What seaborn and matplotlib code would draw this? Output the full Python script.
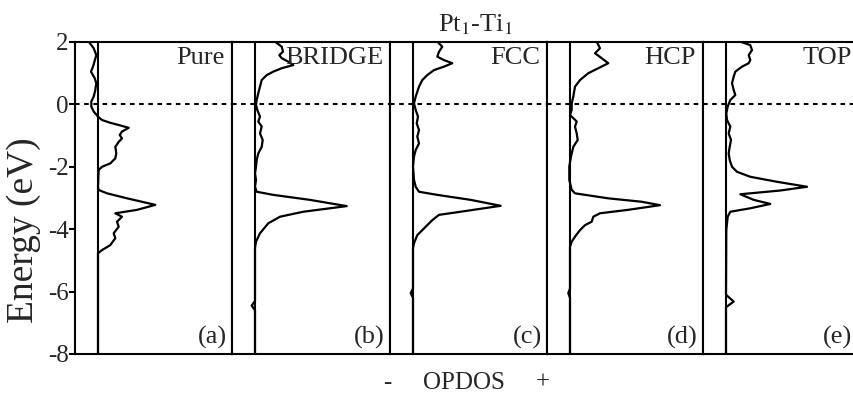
import numpy as np
import pandas as pd
import matplotlib
matplotlib.use("Agg")
import matplotlib.pyplot as plt
import seaborn as sns

# ---------------- data (energy in eV, OPDOS in arbitrary units) ----------------
panels = ["Pure", "BRIDGE", "FCC", "HCP", "TOP"]
panel_tags = ["(a)", "(b)", "(c)", "(d)", "(e)"]

energy_pure = [2.01, 1.80, 1.58, 1.21, 1.05, 0.84, 0.68, 0.46, 0.25, 0.09, -0.07, -0.23, -0.39, -0.50, -0.59,
               -0.66, -0.75, -0.87, -0.98, -1.09, -1.20, -1.36, -1.57, -1.73, -1.89, -2.00, -2.10, -2.64, -2.74, -2.85,
               -3.01, -3.22, -3.38, -3.49, -3.60, -3.76, -3.92, -4.13, -4.29, -4.51, -4.67, -4.77, -8.0]
opdos_pure = [-0.93, -0.43, -0.17, -0.50, -0.70, -0.33, -0.17, -0.27, -0.43, -0.67, -0.67, -0.43, 0.0, 0.40, 1.23,
              2.07, 3.07, 2.40, 2.17, 2.40, 2.07, 1.73, 1.83, 1.73, 1.23, 0.40, 0.07, 0.0, 0.05, 0.90,
              2.90, 5.73, 3.90, 1.73, 2.40, 1.90, 2.07, 1.57, 1.73, 1.23, 0.40, 0.0, 0.0]

energy_bridge = [2.01, 1.85, 1.69, 1.58, 1.48, 1.37, 1.26, 1.16, 1.05, 0.94, 0.78, 0.57, 0.36, 0.14, -0.02,
                 -0.18, -0.39, -0.55, -0.71, -0.93, -1.14, -1.36, -1.57, -1.78, -2.00, -2.21, -2.42, -2.64, -2.80, -2.90,
                 -3.06, -3.26, -3.44, -3.60, -3.81, -4.13, -4.40, -4.60, -6.30, -6.45, -6.60, -8.0]
opdos_bridge = [2.00, 2.67, 2.80, 2.43, 2.67, 3.33, 3.83, 2.67, 1.83, 1.17, 0.67, 0.50, 0.33, 0.17, 0.10,
                0.23, 0.50, 0.33, 0.67, 0.50, 0.77, 0.67, 0.33, 0.17, 0.10, 0.0, 0.10, 0.0, 0.17, 1.83,
                5.50, 9.17, 4.83, 2.50, 1.33, 0.50, 0.10, 0.0, 0.0, -0.33, 0.0, 0.0]

energy_fcc = [2.01, 1.85, 1.69, 1.53, 1.42, 1.32, 1.21, 1.10, 0.94, 0.78, 0.57, 0.25, 0.03, -0.18, -0.39,
              -0.61, -0.82, -1.03, -1.25, -1.46, -1.67, -1.99, -2.42, -2.64, -2.80, -2.90, -3.06, -3.25, -3.44, -3.54,
              -3.71, -3.92, -4.19, -4.45, -4.60, -5.90, -6.05, -6.20, -8.0]
opdos_fcc = [2.43, 2.93, 2.60, 2.43, 3.10, 3.93, 3.10, 2.10, 1.43, 0.93, 0.60, 0.27, 0.10, 0.27, 0.50,
             0.37, 0.60, 0.43, 0.60, 0.27, 0.10, 0.0, 0.10, 0.27, 0.60, 2.43, 5.77, 8.77, 4.77, 2.60,
             1.93, 1.27, 0.43, 0.10, 0.0, 0.0, -0.23, 0.0, 0.0]

energy_hcp = [2.01, 1.80, 1.64, 1.48, 1.32, 1.16, 1.00, 0.78, 0.57, 0.25, 0.03, -0.18, -0.34, -0.44, -0.55,
              -0.71, -0.93, -1.14, -1.36, -1.67, -1.99, -2.42, -2.74, -2.85, -3.01, -3.12, -3.23, -3.38, -3.49, -3.60,
              -3.76, -3.87, -4.03, -4.24, -4.40, -4.56, -5.90, -6.05, -6.20, -8.0]
opdos_hcp = [2.67, 3.00, 2.50, 3.17, 3.83, 2.83, 1.83, 1.00, 0.50, 0.33, 0.17, 0.17, 0.0, 0.33, 0.67,
             0.50, 0.67, 0.77, 0.33, 0.10, -0.07, -0.07, 0.17, 0.50, 3.80, 7.17, 9.00, 5.80, 3.00, 2.33,
             2.17, 1.50, 1.00, 0.50, 0.17, 0.0, 0.0, -0.17, 0.0, 0.0]

energy_top = [2.01, 1.90, 1.74, 1.58, 1.42, 1.32, 1.21, 1.05, 0.89, 0.68, 0.46, 0.30, 0.14, -0.07, -0.29,
              -0.50, -0.71, -0.93, -1.14, -1.36, -1.57, -1.78, -2.00, -2.16, -2.32, -2.48, -2.64, -2.76, -2.88, -3.06,
              -3.19, -3.33, -3.44, -3.60, -4.03, -6.10, -6.32, -6.50, -8.0]
opdos_top = [1.43, 2.43, 2.60, 2.27, 2.43, 2.27, 1.60, 0.93, 0.77, 0.60, 0.77, 0.93, 0.43, 0.17, 0.03,
             0.10, 0.43, 0.27, 0.50, 0.37, 0.27, 0.37, 0.60, 1.10, 2.43, 5.10, 8.10, 5.43, 1.43, 2.77,
             4.43, 2.43, 0.43, 0.17, 0.03, 0.0, 0.77, 0.0, 0.0]

y_ticks = [-8, -6, -4, -2, 0, 2]

energies = [energy_pure, energy_bridge, energy_fcc, energy_hcp, energy_top]
opdoses = [opdos_pure, opdos_bridge, opdos_fcc, opdos_hcp, opdos_top]
frames = []
for name, e, o in zip(panels, energies, opdoses):
    frames.append(pd.DataFrame({"panel": name, "energy": e, "opdos": o}))
df = pd.concat(frames, ignore_index=True)

# ---------------- style ----------------
sns.set_theme(style="white")
plt.rcParams["font.family"] = ["Liberation Serif", "DejaVu Serif"]
plt.rcParams["mathtext.fontset"] = "stix"
plt.rcParams["axes.unicode_minus"] = False

W, H = 854, 394
fig = plt.figure(figsize=(W / 100, H / 100), dpi=100)

left_px = [75, 232, 390, 547, 703]
width_px = [157, 158, 157, 156, 157]
top_px, bot_px = 42, 354
text_col = "#262626"

for i, name in enumerate(panels):
    ax = fig.add_axes([left_px[i] / W, 1 - bot_px / H, width_px[i] / W, (bot_px - top_px) / H])
    sub = df[df["panel"] == name]
    ax.axvline(0, color="black", lw=1.5, zorder=1)
    ax.axhline(0, color="black", lw=1.5, ls=(0, (2.2, 2.2)), zorder=1)
    sns.lineplot(data=sub, x="opdos", y="energy", sort=False, estimator=None, orient="y",
                 color="black", lw=1.6, ax=ax, zorder=3)
    ax.set_xlim(-2.3, -2.3 + width_px[i] / 10)
    ax.set_ylim(-8, 2)
    ax.set_xlabel("")
    ax.set_ylabel("")
    ax.set_xticks([])
    for s in ax.spines.values():
        s.set_linewidth(1.5)
        s.set_color("black")
    ax.set_yticks(y_ticks)
    if i == 0:
        ax.tick_params(axis="y", left=True, direction="out", length=4, width=1.5,
                       labelsize=18, pad=0.5, colors="black", labelcolor=text_col)
    else:
        ax.tick_params(axis="y", left=False, labelleft=False)
    right_px = left_px[i] + width_px[i]
    name_right = min(right_px - 7, W - 2)
    tag_right = min(right_px - 5, W - 2)
    ax.text((name_right - left_px[i]) / width_px[i], 0.985, name, transform=ax.transAxes,
            ha="right", va="top", fontsize=19, color=text_col)
    ax.text((tag_right - left_px[i]) / width_px[i], 0.015, panel_tags[i], transform=ax.transAxes,
            ha="right", va="bottom", fontsize=19, color=text_col)

fig.text(24 / W, 1 - 230 / H, "Energy (eV)", rotation=90, ha="center", va="center",
         fontsize=27, color=text_col)
fig.text(475 / W, 1 - 25 / H, r"Pt$_1$-Ti$_1$", ha="center", va="center", fontsize=19, color=text_col)
fig.text(387 / W, 1 - 383 / H, "-", ha="center", va="center", fontsize=18, color=text_col)
fig.text(464 / W, 1 - 383 / H, "OPDOS", ha="center", va="center", fontsize=18, color=text_col)
fig.text(543 / W, 1 - 383 / H, "+", ha="center", va="center", fontsize=18, color=text_col)

fig.savefig("out.png", dpi=100)
